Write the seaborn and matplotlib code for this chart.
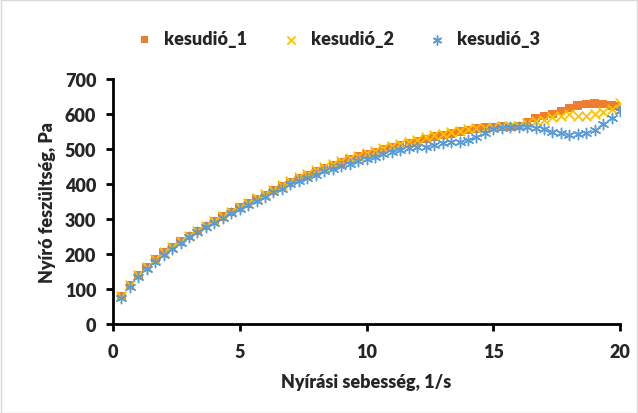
import numpy as np
import pandas as pd
import seaborn as sns
import matplotlib.pyplot as plt
from matplotlib.patches import Rectangle

# Shear rate, 1/s
shear_rate = [round(i / 3, 2) for i in range(1, 61)]

# Shear stress, Pa
kesudio_1 = [80, 112, 140, 163, 185, 204, 220, 236, 252, 266,
             280, 294, 307, 320, 333, 345, 357, 369, 381, 393,
             405, 415, 425, 436, 445, 453, 462, 470, 478, 486,
             492, 499, 505, 511, 517, 523, 529, 535, 540, 545,
             550, 554, 558, 561, 563, 564, 563, 566, 576, 588,
             594, 600, 608, 617, 625, 629, 630, 628, 625, 622]
kesudio_2 = [80, 111, 141, 163, 186, 205, 221, 237, 252, 267,
             281, 295, 308, 321, 334, 347, 359, 371, 384, 396,
             408, 419, 430, 440, 448, 457, 466, 474, 481, 488,
             495, 502, 508, 515, 521, 527, 533, 539, 544, 548,
             552, 556, 559, 561, 562, 565, 567, 566, 575, 580,
             584, 592, 594, 600, 595, 594, 601, 607, 615, 632]
kesudio_3 = [75, 107, 135, 158, 178, 198, 215, 232, 248, 262,
             276, 290, 303, 316, 328, 340, 352, 364, 376, 387,
             399, 409, 418, 427, 436, 443, 451, 458, 465, 472,
             478, 485, 491, 497, 502, 505, 507, 512, 516, 520,
             521, 526, 534, 546, 556, 561, 563, 564, 562, 560,
             557, 549, 545, 541, 543, 545, 555, 572, 588, 608]

series_names = ["kesudió_1", "kesudió_2", "kesudió_3"]
colors = {"kesudió_1": "#ED7D31", "kesudió_2": "#FFC000", "kesudió_3": "#5B9BD5"}
markers = {"kesudió_1": "s", "kesudió_2": "x", "kesudió_3": (6, 2, 0)}
sizes = {"kesudió_1": 38, "kesudió_2": 48, "kesudió_3": 55}
widths = {"kesudió_2": 1.3, "kesudió_3": 1.05}

df = pd.DataFrame({
    "x": shear_rate * 3,
    "y": kesudio_1 + kesudio_2 + kesudio_3,
    "series": np.repeat(series_names, len(shear_rate)),
})

sns.set_theme(style="white")
plt.rcParams["font.family"] = ["Lato", "DejaVu Sans"]
plt.rcParams["font.weight"] = "bold"

fig = plt.figure(figsize=(6.38, 4.14), dpi=100)
ax = fig.add_axes([113 / 638, 1 - 325 / 414, (620 - 113) / 638, (325 - 80) / 414])

for name in series_names:
    sub = df[df["series"] == name]
    kw = dict(marker=markers[name], s=sizes[name], color=colors[name], label=name)
    if name == "kesudió_1":
        kw.update(edgecolor="none")
    else:
        kw.update(linewidth=widths[name])
    sns.scatterplot(data=sub, x="x", y="y", ax=ax, **kw)

handles, labels = ax.get_legend_handles_labels()
if ax.get_legend() is not None:
    ax.get_legend().remove()

ax.set_xlim(0, 20)
ax.set_ylim(0, 700)
ax.set_xticks([0, 5, 10, 15, 20])
ax.set_yticks(range(0, 701, 100))
for side in ["top", "right"]:
    ax.spines[side].set_visible(False)
for side in ["left", "bottom"]:
    ax.spines[side].set_color("black")
    ax.spines[side].set_linewidth(2.0)
ax.tick_params(axis="both", which="both", direction="out", length=5, width=2,
               color="black", labelsize=13, bottom=True, left=True)
for lab in ax.get_xticklabels() + ax.get_yticklabels():
    lab.set_fontweight("heavy")
ax.tick_params(axis="x", pad=9)
ax.tick_params(axis="y", pad=7)

ax.set_xlabel("Nyírási sebesség, 1/s", fontsize=13, fontweight="heavy", labelpad=9)
ax.set_ylabel("Nyíró feszültség, Pa", fontsize=13, fontweight="heavy", labelpad=6)

leg = fig.legend(handles, labels, loc="center", bbox_to_anchor=(333 / 638, 1 - 40 / 414),
                 ncol=3, frameon=False, fontsize=13, markerscale=0.85,
                 handletextpad=0.1, columnspacing=1.4, borderaxespad=0)
for t in leg.get_texts():
    t.set_fontweight("heavy")

fig.patches.append(Rectangle((0.5 / 638, 0.5 / 414), 1 - 1.5 / 638, 1 - 1.5 / 414,
                             transform=fig.transFigure, fill=False,
                             edgecolor="#D9D9D9", linewidth=1.0))

fig.savefig("out.png", dpi=100)
